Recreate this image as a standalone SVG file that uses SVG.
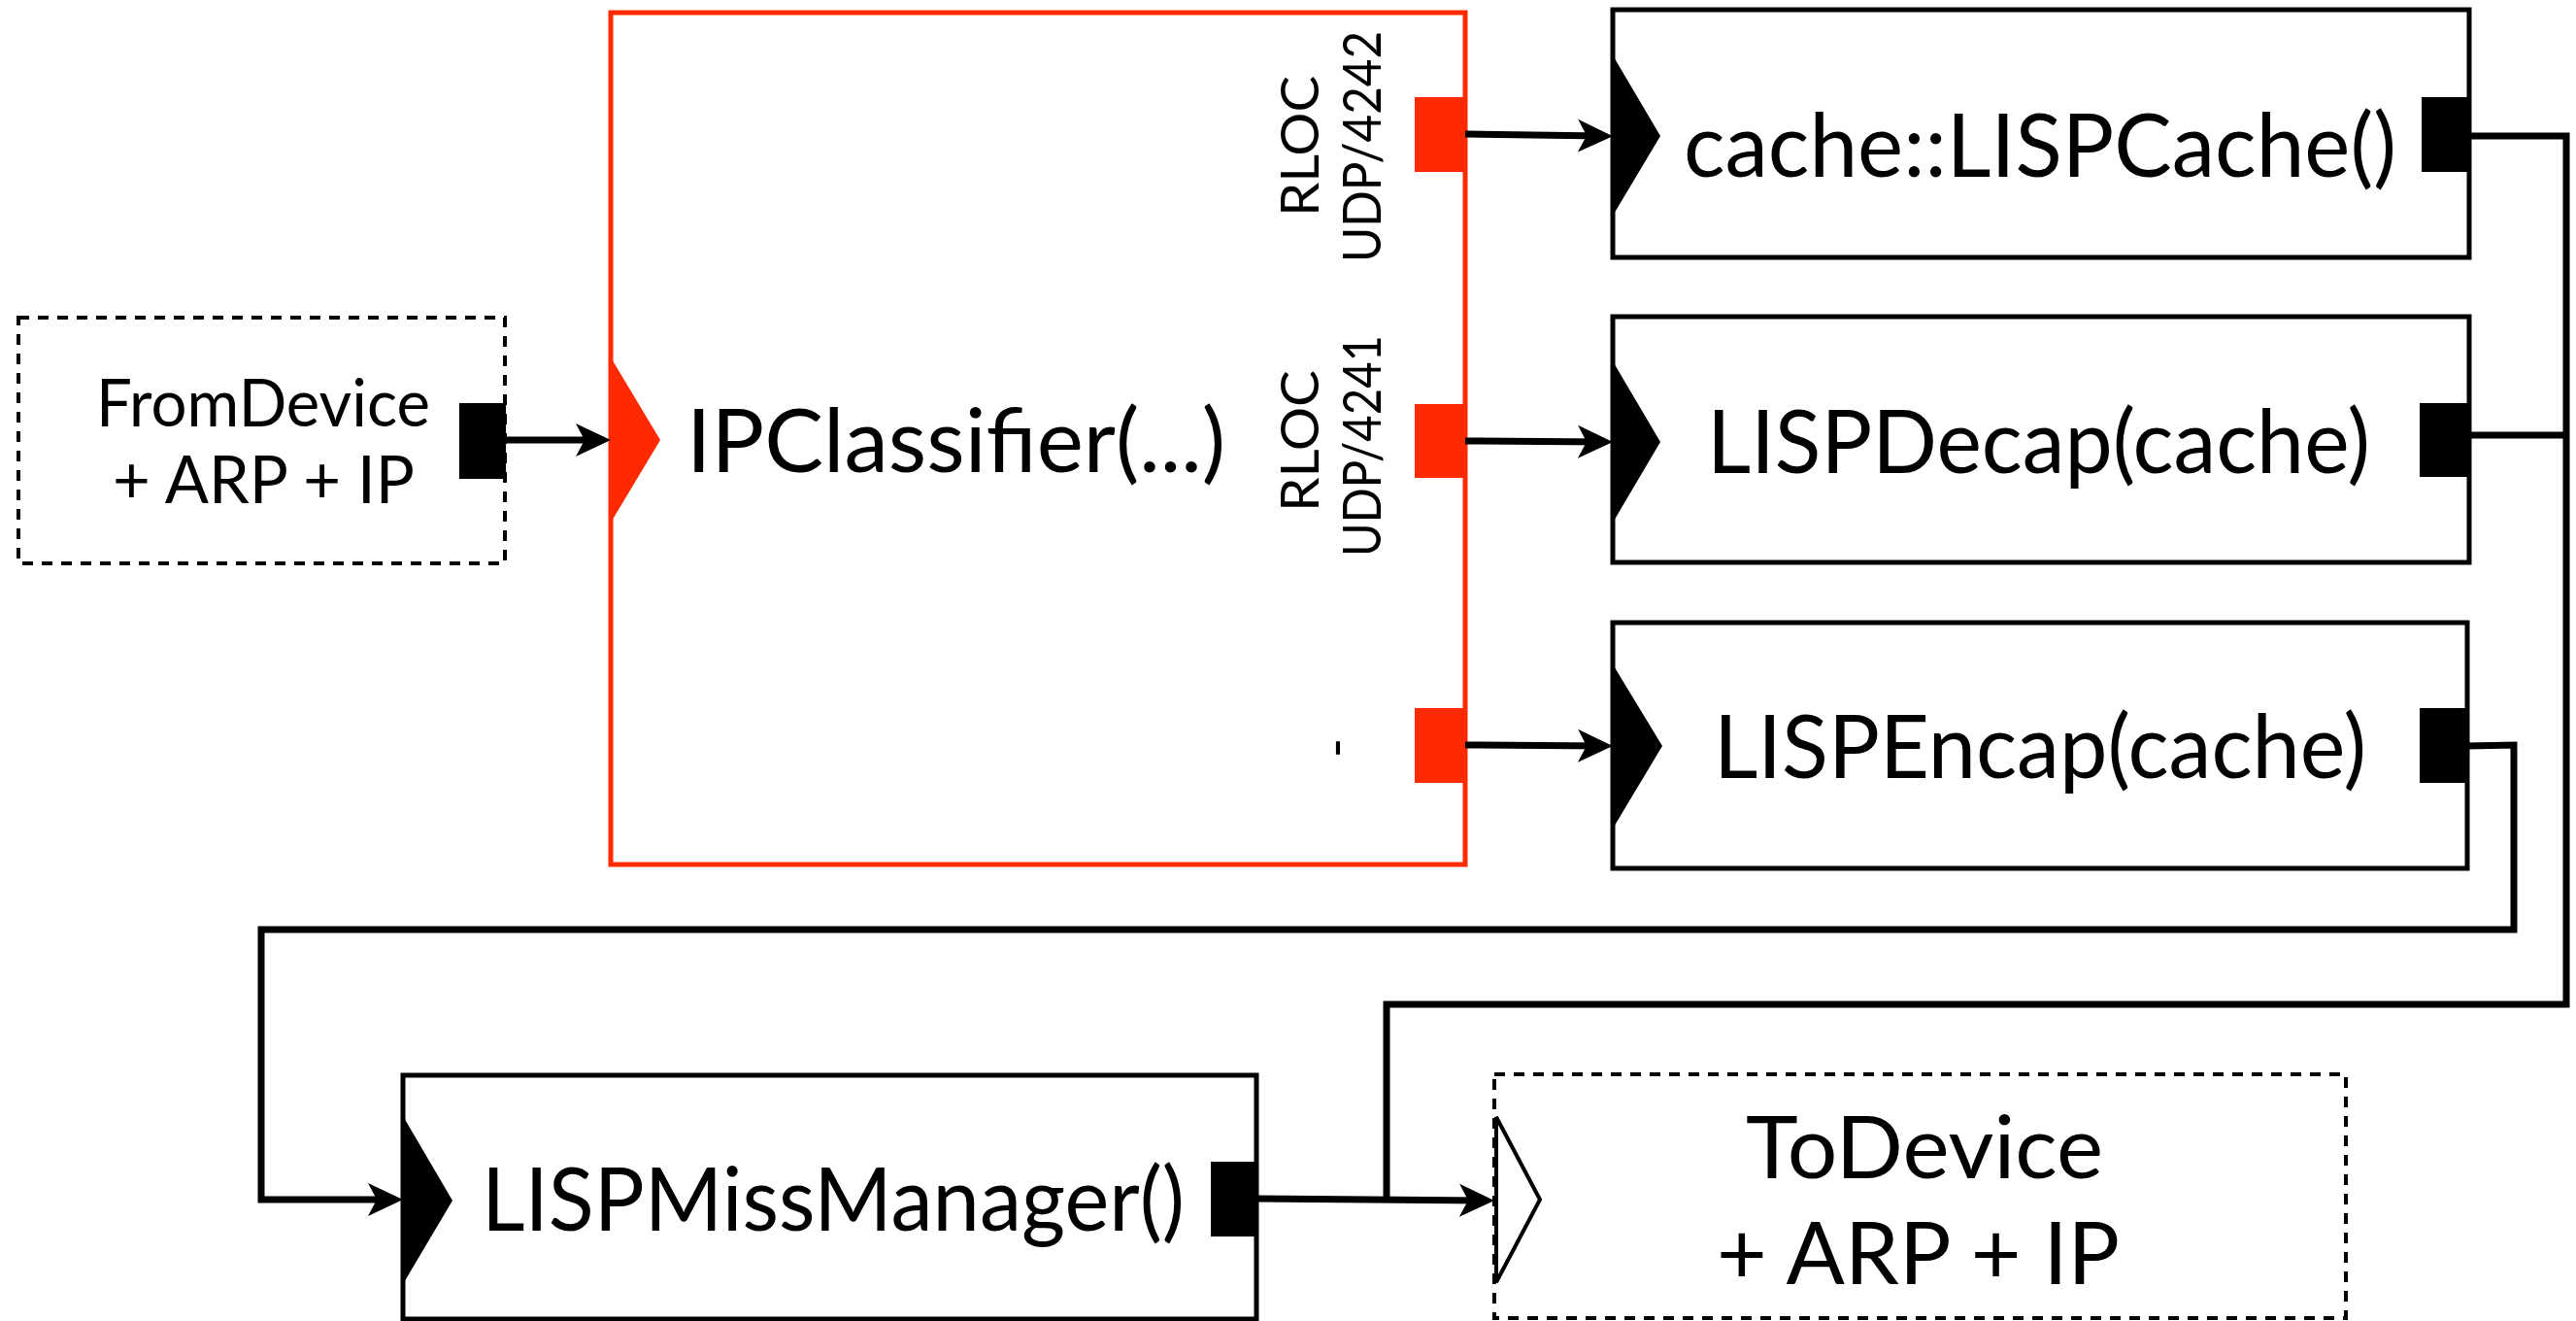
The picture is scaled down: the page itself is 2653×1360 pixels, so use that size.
<svg xmlns="http://www.w3.org/2000/svg" width="2653" height="1360" viewBox="0 0 2653 1360">
  <style>
    .lbl { font-family: Lato, "Open Sans", "Liberation Sans", sans-serif; fill: #000; }
    .big { font-size: 92px; }
    .dev { font-size: 67px; }
    .todev { font-size: 90px; }
    .port-lbl { font-size: 55px; }
    .box { fill: #fff; stroke: #000; stroke-width: 5; }
    .dashed { fill: #fff; stroke: #000; stroke-width: 4; stroke-dasharray: 11 9; }
    .classifier { fill: #fff; stroke: #ff2a00; stroke-width: 5; }
    .in-black { fill: #000; }
    .in-red { fill: #ff2a00; }
    .in-hollow { fill: #fff; stroke: #000; stroke-width: 4; stroke-linejoin: miter; }
    .out-black { fill: #000; }
    .out-red { fill: #ff2a00; }
    .wire { fill: none; stroke: #000; stroke-width: 7; stroke-linejoin: miter; }
  </style>
  <defs>
    <marker id="arrow" markerUnits="userSpaceOnUse" viewBox="0 0 36 36" markerWidth="36" markerHeight="36" refX="26" refY="18" orient="auto">
      <path d="M0,1 L36,18 L0,35 L9,18 Z" fill="#000"/>
    </marker>
  </defs>

  <rect width="2653" height="1360" fill="#fff"/>

  <!-- FromDevice source -->
  <g id="from-device">
    <rect class="dashed" x="19" y="327" width="501" height="253"/>
    <rect class="out-black" x="473" y="415" width="48" height="78"/>
    <text class="lbl dev" x="99" y="439" textLength="344" lengthAdjust="spacingAndGlyphs">FromDevice</text>
    <text class="lbl dev" x="116" y="518" textLength="311" lengthAdjust="spacingAndGlyphs">+ ARP + IP</text>
  </g>

  <!-- IPClassifier with three output ports -->
  <g id="ip-classifier">
    <rect class="classifier" x="629" y="13" width="880" height="877"/>
    <path class="in-red" d="M629,368 L680,453 L629,538 Z"/>
    <rect class="out-red" x="1457" y="100" width="52" height="77"/>
    <rect class="out-red" x="1457" y="416" width="52" height="76"/>
    <rect class="out-red" x="1457" y="729" width="52" height="77"/>
    <text class="lbl big" x="707" y="486" textLength="555" lengthAdjust="spacingAndGlyphs">IPClassifier(...)</text>
    <text class="lbl port-lbl" transform="translate(1358,223) rotate(-90)" textLength="145" lengthAdjust="spacingAndGlyphs">RLOC</text>
    <text class="lbl port-lbl" transform="translate(1422,270) rotate(-90)" textLength="238" lengthAdjust="spacingAndGlyphs">UDP/4242</text>
    <text class="lbl port-lbl" transform="translate(1358,527) rotate(-90)" textLength="146" lengthAdjust="spacingAndGlyphs">RLOC</text>
    <text class="lbl port-lbl" transform="translate(1422,573) rotate(-90)" textLength="228" lengthAdjust="spacingAndGlyphs">UDP/4241</text>
    <text class="lbl port-lbl" transform="translate(1394,770) rotate(-90)" text-anchor="middle">-</text>
  </g>

  <!-- cache::LISPCache() -->
  <g id="lisp-cache">
    <rect class="box" x="1661" y="10" width="882" height="255"/>
    <path class="in-black" d="M1661,57 L1710,140 L1661,222 Z"/>
    <rect class="out-black" x="2494" y="100" width="49" height="77"/>
    <text class="lbl big" x="1734" y="182" textLength="734" lengthAdjust="spacingAndGlyphs">cache::LISPCache()</text>
  </g>

  <!-- LISPDecap(cache) -->
  <g id="lisp-decap">
    <rect class="box" x="1661" y="326" width="882" height="253"/>
    <path class="in-black" d="M1661,372 L1710,455 L1661,538 Z"/>
    <rect class="out-black" x="2492" y="415" width="51" height="76"/>
    <text class="lbl big" x="1758" y="487" textLength="683" lengthAdjust="spacingAndGlyphs">LISPDecap(cache)</text>
  </g>

  <!-- LISPEncap(cache) -->
  <g id="lisp-encap">
    <rect class="box" x="1661" y="641" width="880" height="253"/>
    <path class="in-black" d="M1661,684 L1712,768 L1661,853 Z"/>
    <rect class="out-black" x="2492" y="729" width="49" height="77"/>
    <text class="lbl big" x="1765" y="801" textLength="672" lengthAdjust="spacingAndGlyphs">LISPEncap(cache)</text>
  </g>

  <!-- LISPMissManager() -->
  <g id="lisp-miss-manager">
    <rect class="box" x="415" y="1107" width="879" height="251"/>
    <path class="in-black" d="M415,1149 L466,1236 L415,1322 Z"/>
    <rect class="out-black" x="1247" y="1196" width="47" height="77"/>
    <text class="lbl big" x="496" y="1267" textLength="724" lengthAdjust="spacingAndGlyphs">LISPMissManager()</text>
  </g>

  <!-- ToDevice sink -->
  <g id="to-device">
    <rect class="dashed" x="1539" y="1106" width="877" height="251"/>
    <path class="in-hollow" d="M1541,1150 L1586,1235 L1541,1320 Z"/>
    <text class="lbl todev" x="1798" y="1213" textLength="368" lengthAdjust="spacingAndGlyphs">ToDevice</text>
    <text class="lbl todev" x="1768" y="1322" textLength="415" lengthAdjust="spacingAndGlyphs">+ ARP + IP</text>
  </g>

  <!-- connections -->
  <g id="connectors">
    <path class="wire" d="M521,453 L619,453" marker-end="url(#arrow)"/>
    <path class="wire" d="M1509,138 L1651,140" marker-end="url(#arrow)"/>
    <path class="wire" d="M1509,454 L1651,455" marker-end="url(#arrow)"/>
    <path class="wire" d="M1509,767 L1651,768" marker-end="url(#arrow)"/>
    <path class="wire" d="M2541,768 L2589,767 L2589,957 L269,957 L269,1235 L405,1235" marker-end="url(#arrow)"/>
    <path class="wire" d="M1294,1234 L1529,1236" marker-end="url(#arrow)"/>
    <path class="wire" d="M2543,140 L2643,140 L2643,1034 L1428,1034 L1428,1235"/>
    <path class="wire" d="M2543,448 L2643,448"/>
  </g>
</svg>
